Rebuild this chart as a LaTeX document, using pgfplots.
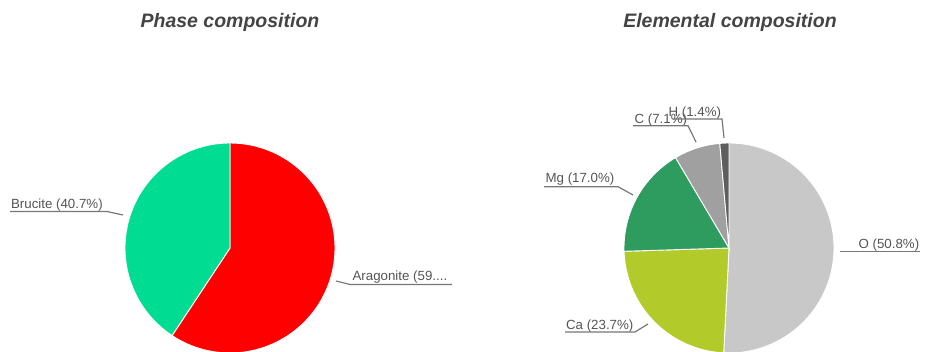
\documentclass[border=0pt]{standalone}
\usepackage{pgfplots}
\pgfplotsset{compat=1.18}
\usepackage{fontspec}
\setmainfont{Liberation Sans}
\definecolor{brucite}{HTML}{00DD92}
\definecolor{aragonite}{HTML}{FF0000}
\definecolor{oxy}{HTML}{C8C8C8}
\definecolor{calc}{HTML}{B3CB2A}
\definecolor{magn}{HTML}{2E9B5F}
\definecolor{carb}{HTML}{A0A0A0}
\definecolor{hydr}{HTML}{5E5E5E}
\definecolor{txt}{HTML}{555555}
\definecolor{ldr}{HTML}{777777}
% #1 cumulative percent before slice, #2 percent of slice, #3 colour
\newcommand\slice[3]{%
  \pgfmathsetmacro\sa{90-3.6*(#1)}%
  \pgfmathsetmacro\sb{90-3.6*((#1)+(#2))}%
  \edef\tmp{\noexpand\addplot[fill=#3,draw=white,line width=0.9pt,domain=\sb:\sa,samples=90]
    ({cos(x)},{sin(x)}) -- (axis cs:0,0) -- cycle;}%
  \tmp}
\pgfplotsset{pie/.style={width=210pt,height=210pt,scale only axis,
  xmin=-1,xmax=1,ymin=-1,ymax=1,hide axis,clip=false,anchor=center}}
\begin{document}
\begin{tikzpicture}[x=1pt,y=1pt]
\useasboundingbox (0,0) rectangle (925,352);
% Phase composition: Aragonite 59.3, Brucite 40.7
\begin{axis}[pie,at={(230pt,104pt)}]
\slice{0}{59.3}{aragonite}
\slice{59.3}{40.7}{brucite}
\end{axis}
% Elemental composition: O 50.8, Ca 23.7, Mg 17.0, C 7.1, H 1.4
\begin{axis}[pie,at={(729pt,104pt)}]
\slice{0}{50.8}{oxy}
\slice{50.8}{23.7}{calc}
\slice{74.5}{17.0}{magn}
\slice{91.5}{7.1}{carb}
\slice{98.6}{1.4}{hydr}
\end{axis}
% titles
\node[anchor=base,text=txt!80!black,font=\fontsize{19.5}{22}\selectfont\bfseries\itshape] at (230,324) {Phase composition};
\node[anchor=base,text=txt!80!black,font=\fontsize{19.5}{22}\selectfont\bfseries\itshape] at (730,324) {Elemental composition};
% labels
\begin{scope}[every node/.style={anchor=base west,inner sep=0pt,text=txt,font=\fontsize{13.3}{15}\selectfont},line width=1.2pt]
\node at (10.5,143) {Brucite (40.7\%)};
\draw[ldr] (10,140.5) -- (107,140.5) -- (123,137);
\node at (352,71) {Aragonite (59....};
\draw[ldr] (336,71) -- (350,67.5) -- (452,67.5);
\node at (545,169) {Mg (17.0\%)};
\draw[ldr] (544,165.3) -- (618,165.3) -- (633,157);
\node at (634,228.7) {C (7.1\%)};
\draw[ldr] (633,226.3) -- (688,226.3) -- (696,210);
\node at (668,235.3) {H (1.4\%)};
\draw[ldr] (673,233) -- (722,233) -- (724,214);
\node at (858,103.7) {O (50.8\%)};
\draw[ldr] (840,100.3) -- (920,100.3);
\node at (565.5,22.7) {Ca (23.7\%)};
\draw[ldr] (565,20) -- (635,20) -- (648,28);
\end{scope}
\end{tikzpicture}
\end{document}
